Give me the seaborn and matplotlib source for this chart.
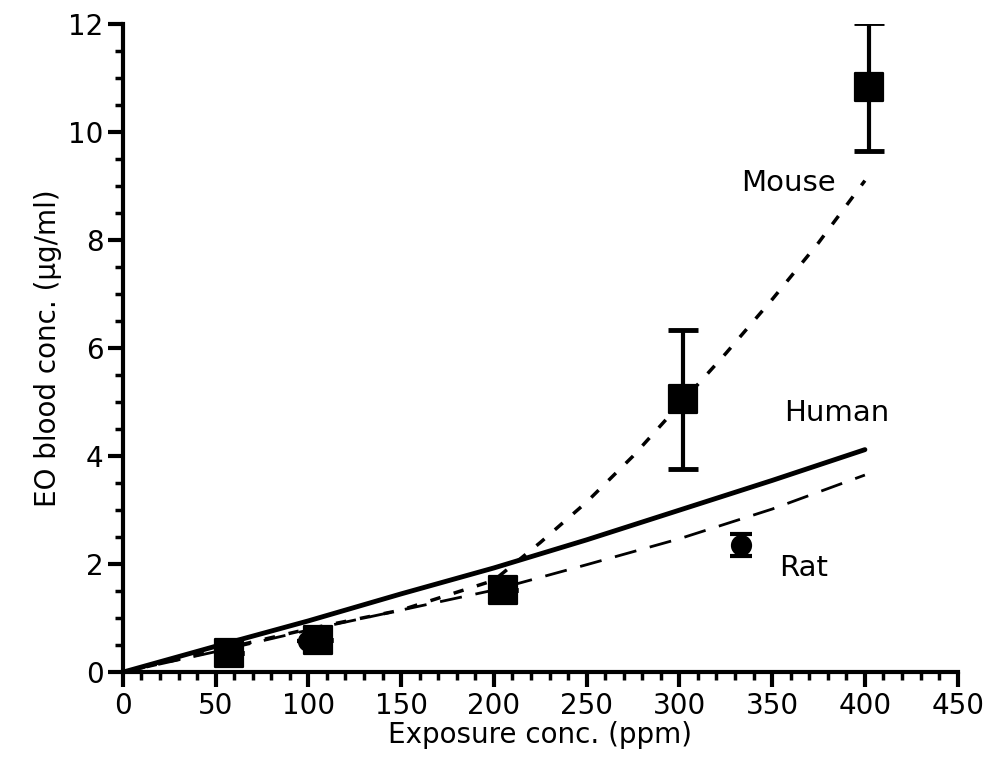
import numpy as np
import pandas as pd
import matplotlib
matplotlib.use("Agg")
import matplotlib.pyplot as plt
from matplotlib.ticker import MultipleLocator
import seaborn as sns

# model curves (ppm -> ug/ml)
curve_x = [0, 50, 100, 150, 200, 250, 300, 350, 400]
human_y = [0, 0.48, 0.95, 1.45, 1.93, 2.45, 3.0, 3.55, 4.12]
rat_y = [0, 0.38, 0.78, 1.15, 1.52, 1.99, 2.47, 3.02, 3.65]
mouse_x = [0, 50, 100, 150, 200, 225, 250, 275, 300, 325, 350, 375, 400]
mouse_y = [0, 0.4, 0.8, 1.15, 1.7, 2.4, 3.15, 4.0, 4.95, 5.9, 6.9, 7.95, 9.1]

# measured points
mouse_pts_x = [57, 105, 205, 302, 402]
mouse_pts_y = [0.35, 0.6, 1.52, 5.05, 10.83]
mouse_err = [0, 0, 0, 1.28, 1.18]
rat_pts_x = [55, 100, 203, 333]
rat_pts_y = [0.33, 0.57, 1.5, 2.35]
rat_err = [0, 0, 0, 0.2]

sns.set_style("ticks")
plt.rcParams['font.family'] = ['DejaVu Sans']
for k in ['text.color', 'axes.labelcolor', 'xtick.color', 'ytick.color', 'axes.edgecolor']:
    plt.rcParams[k] = 'black'

fig = plt.figure(figsize=(10.07, 7.63), dpi=100)
ax = fig.add_axes([0.122, 0.119, 0.829, 0.8496])

sns.lineplot(x=curve_x, y=human_y, ax=ax, color='black', lw=3.5)
sns.lineplot(x=curve_x, y=rat_y, ax=ax, color='black', lw=2)
ax.lines[-1].set_dashes([8, 5])
sns.lineplot(x=mouse_x, y=mouse_y, ax=ax, color='black', lw=2.5)
ax.lines[-1].set_dashes([3, 4])

ax.errorbar(rat_pts_x, rat_pts_y, yerr=rat_err, fmt='none', ecolor='black',
            elinewidth=2.5, capsize=8, capthick=3)
ax.errorbar(mouse_pts_x, mouse_pts_y, yerr=mouse_err, fmt='none', ecolor='black',
            elinewidth=3, capsize=11, capthick=3.5)
sns.scatterplot(x=rat_pts_x, y=rat_pts_y, ax=ax, marker='o', s=200,
                color='black', edgecolor='black', zorder=5)
sns.scatterplot(x=mouse_pts_x, y=mouse_pts_y, ax=ax, marker='s', s=400,
                color='black', edgecolor='black', zorder=6)

ax.text(359, 9.06, 'Mouse', fontsize=21, ha='center', va='center')
ax.text(385, 4.8, 'Human', fontsize=21, ha='center', va='center')
ax.text(367, 1.93, 'Rat', fontsize=21, ha='center', va='center')

ax.set_xlim(0, 450)
ax.set_ylim(0, 12)
ax.xaxis.set_major_locator(MultipleLocator(50))
ax.xaxis.set_minor_locator(MultipleLocator(10))
ax.yaxis.set_major_locator(MultipleLocator(2))
ax.yaxis.set_minor_locator(MultipleLocator(0.5))
ax.tick_params(which='major', length=11, width=3, labelsize=20, direction='out', pad=3)
ax.tick_params(which='minor', length=6, width=2.5, direction='out')
for s in ['left', 'bottom']:
    ax.spines[s].set_linewidth(3)
sns.despine(ax=ax)
ax.set_xlabel('Exposure conc. (ppm)', fontsize=20, labelpad=1)
ax.set_ylabel('EO blood conc. (\u00b5g/ml)', fontsize=20, labelpad=4)

fig.savefig('out.png', dpi=100)
